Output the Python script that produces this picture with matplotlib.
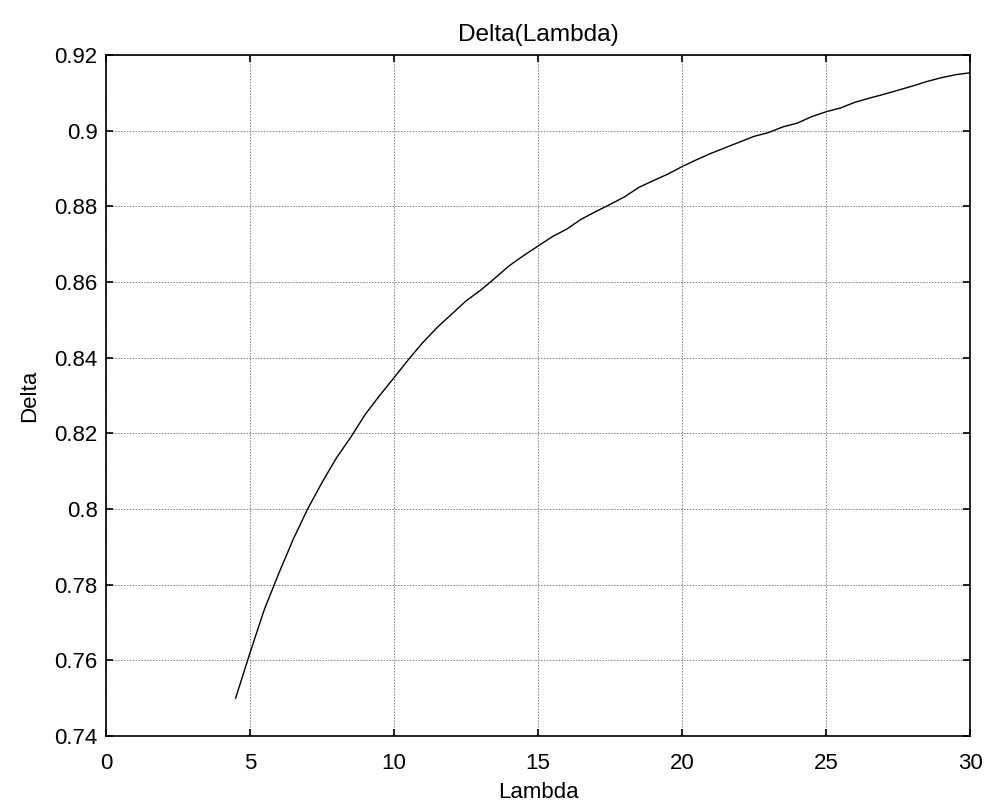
import numpy as np
import matplotlib
matplotlib.use("Agg")
import matplotlib.pyplot as plt

plt.rcParams["font.family"] = ["Liberation Sans", "DejaVu Sans"]

# values
lam = [4.5, 5.0, 5.5, 6.0, 6.5, 7.0, 7.5, 8.0, 8.5, 9.0, 9.5, 10.0,
       10.5, 11.0, 11.5, 12.0, 12.5, 13.0, 13.5, 14.0, 14.5, 15.0, 15.5,
       16.0, 16.5, 17.0, 17.5, 18.0, 18.5, 19.0, 19.5, 20.0, 20.5, 21.0,
       21.5, 22.0, 22.5, 23.0, 23.5, 24.0, 24.5, 25.0, 25.5, 26.0, 26.5,
       27.0, 27.5, 28.0, 28.5, 29.0, 29.5, 30.0]
delta = [0.750, 0.762, 0.7735, 0.783, 0.792, 0.800, 0.807, 0.8135, 0.819,
         0.825, 0.830, 0.8347, 0.8395, 0.844, 0.848, 0.8515, 0.855, 0.8578,
         0.861, 0.8643, 0.867, 0.8695, 0.872, 0.874, 0.8766, 0.8786, 0.8805,
         0.8825, 0.885, 0.8868, 0.8885, 0.8905, 0.8923, 0.894, 0.8955, 0.897,
         0.8985, 0.8995, 0.901, 0.902, 0.9037, 0.905, 0.906, 0.9075, 0.9086,
         0.9096, 0.9107, 0.9118, 0.913, 0.914, 0.9148, 0.9153]

xticks = [0, 5, 10, 15, 20, 25, 30]
yticks = [0.74, 0.76, 0.78, 0.8, 0.82, 0.84, 0.86, 0.88, 0.9, 0.92]
ytick_labels = ["0.74", "0.76", "0.78", "0.8", "0.82", "0.84", "0.86",
                "0.88", "0.9", "0.92"]

fig = plt.figure(figsize=(9.89, 8.07), dpi=100)
ax = fig.add_axes([0.1072, 0.0880, 0.8736, 0.8438])

ax.plot(lam, delta, color="black", lw=1.0)

ax.set_xlim(0, 30)
ax.set_ylim(0.74, 0.92)
ax.set_xticks(xticks)
ax.set_yticks(yticks)
ax.set_yticklabels(ytick_labels)

ax.grid(True, color="#808080", linestyle=(0, (1.5, 1.5)), lw=0.7)
ax.tick_params(direction="in", length=5, width=1.2, top=True, right=True,
               labelsize=16)
ax.tick_params(axis="x", pad=12)
ax.tick_params(axis="y", pad=6)
for s in ax.spines.values():
    s.set_linewidth(1.2)

ax.set_title("Delta(Lambda)", fontsize=17.6, pad=10)
ax.set_xlabel("Lambda", fontsize=16, labelpad=6)
ax.set_ylabel("Delta", fontsize=16, labelpad=10)

fig.savefig("out.png", dpi=100)
